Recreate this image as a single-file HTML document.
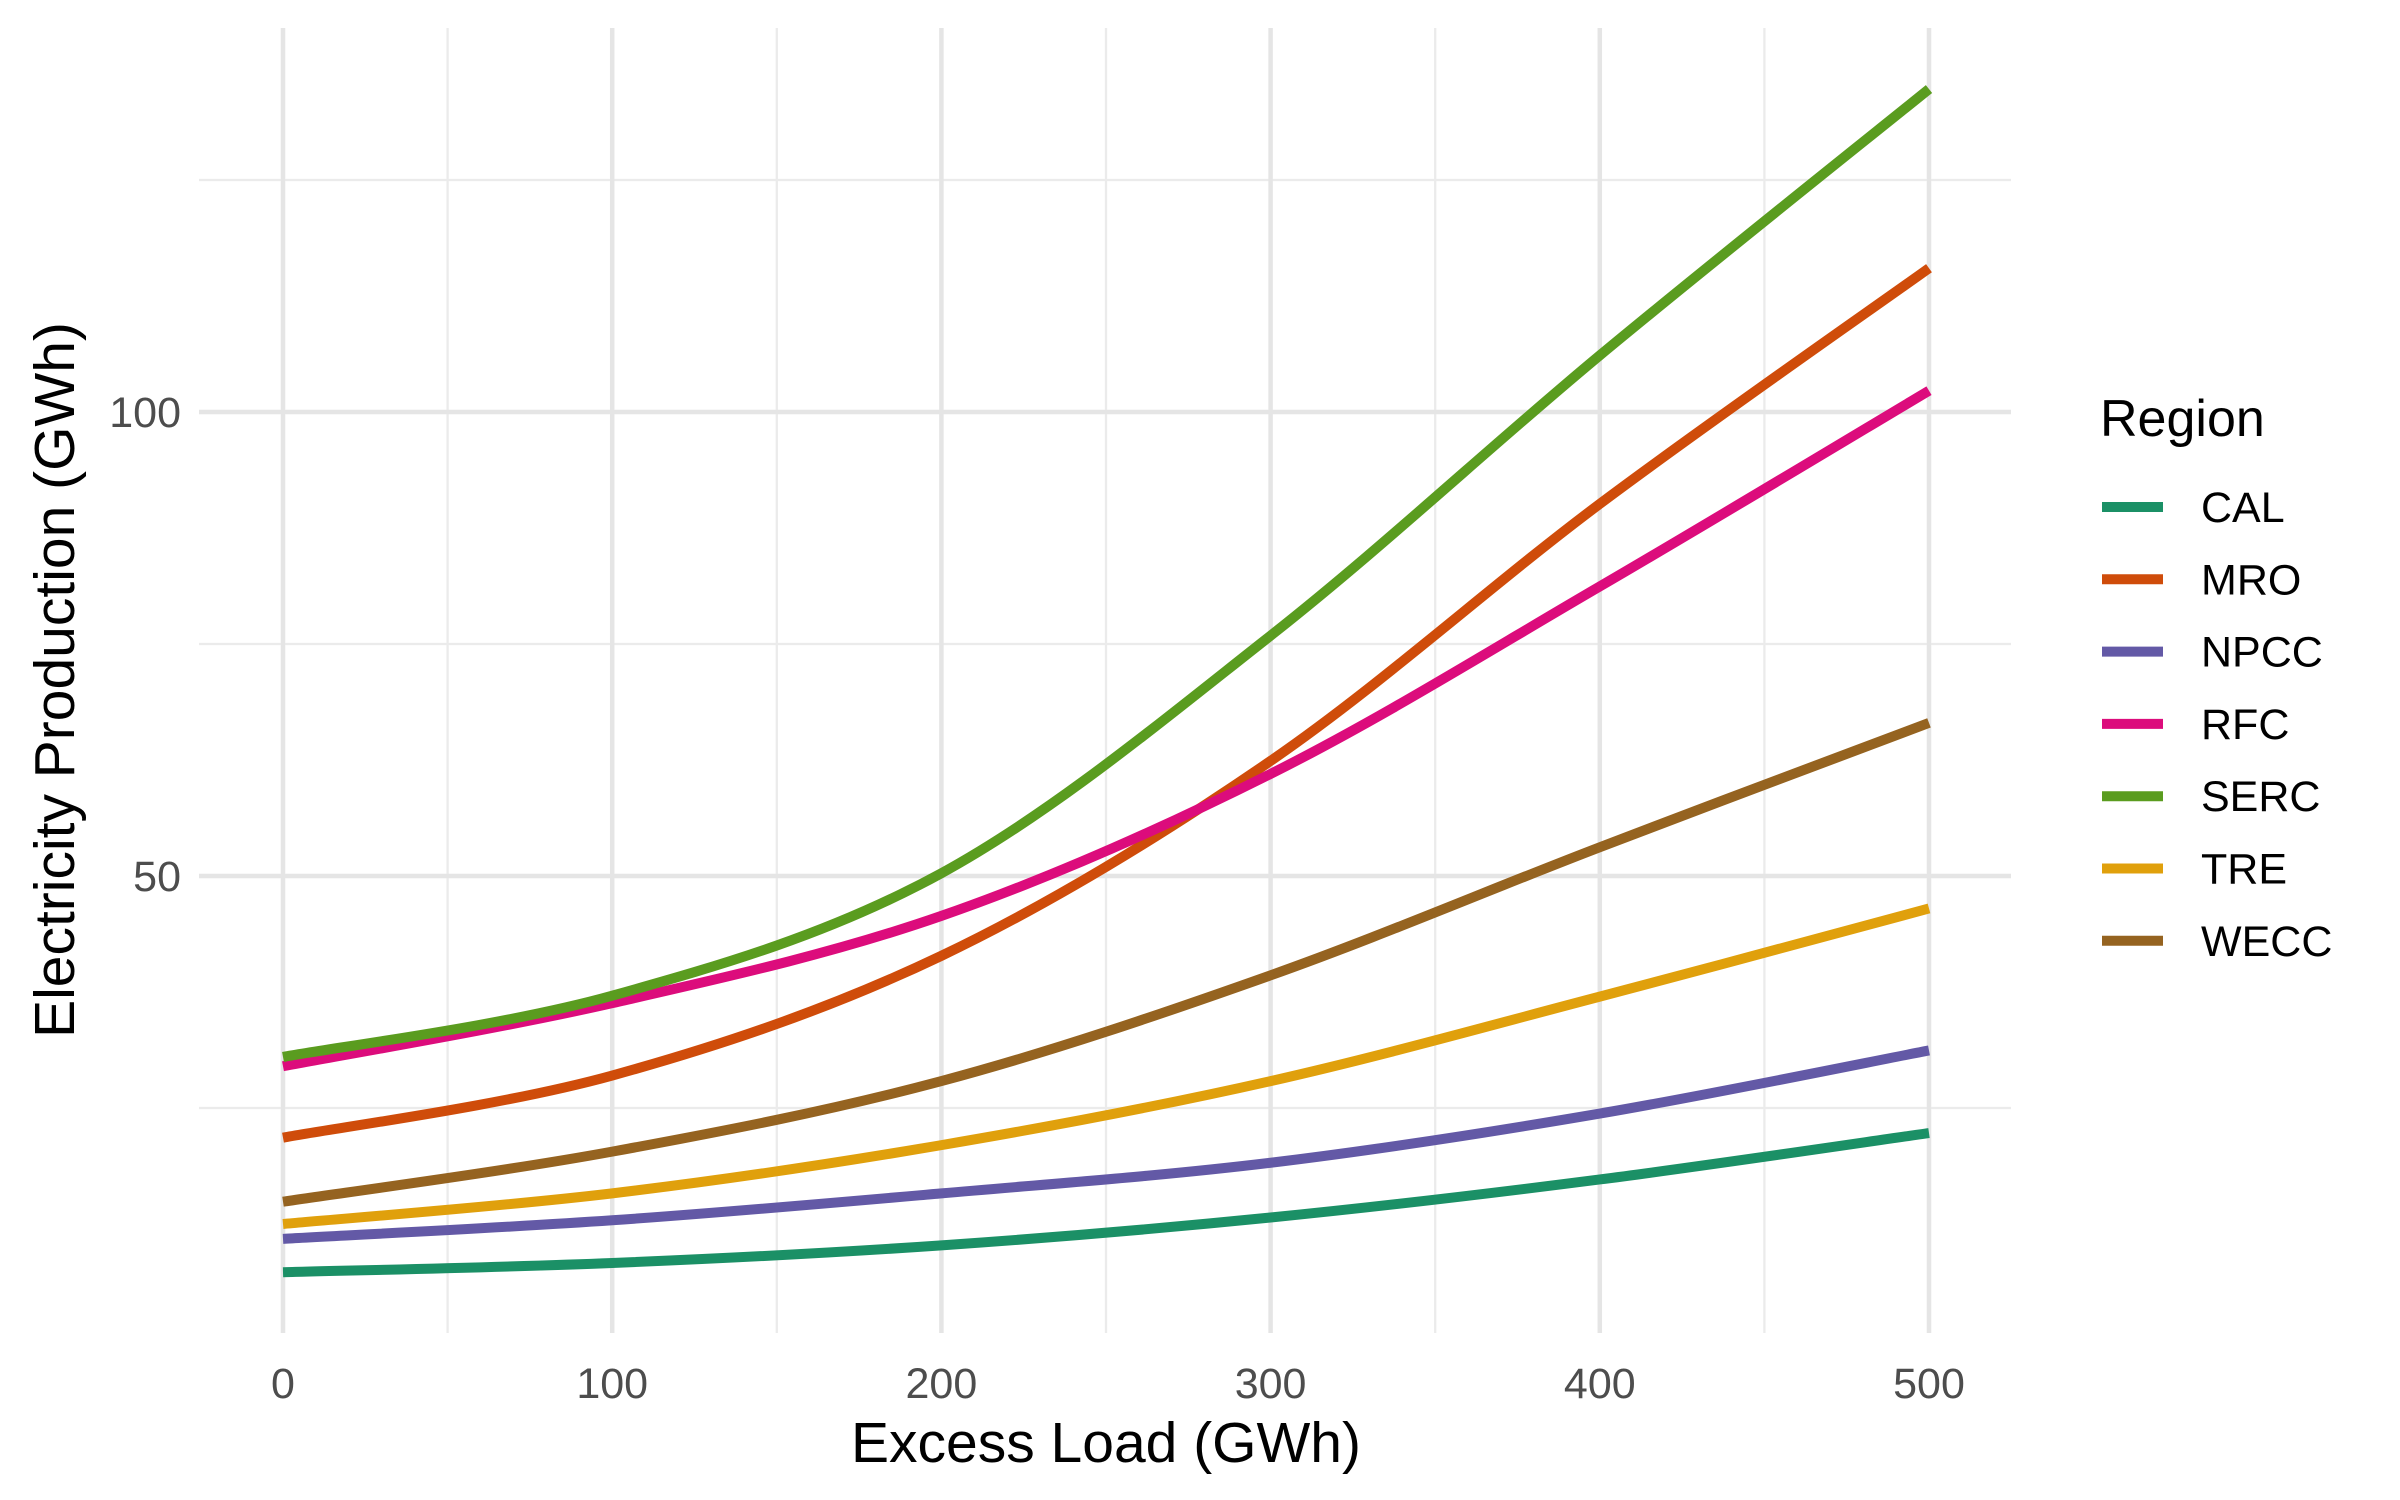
<!DOCTYPE html>
<html><head><meta charset="utf-8"><style>
html,body{margin:0;padding:0;background:#fff;}
svg{display:block;font-family:"Liberation Sans",Arial,sans-serif;}
</style></head><body>
<svg id="chart" width="2400" height="1500" viewBox="0 0 2400 1500">
<g id="grid"></g>
<g id="lines"></g>
<g id="axes"></g>
<g id="legend"></g>
</svg>
<script>
const xValues = [0, 100, 200, 300, 400, 500];
const seriesNames = ["CAL","MRO","NPCC","RFC","SERC","TRE","WECC"];
const seriesColors = ["#1b9066","#cf4c0a","#6359a6","#dc0c7c","#5a9c1f","#e0a00c","#956320"];
const calValues  = [7.3, 8.3, 10.2, 13.2, 17.3, 22.3];
const mroValues  = [21.8, 28.5, 41.4, 62.4, 90.1, 115.5];
const npccValues = [10.9, 12.9, 15.8, 19.1, 24.4, 31.2];
const rfcValues  = [29.5, 36.3, 45.7, 61.0, 81.2, 102.3];
const sercValues = [30.5, 37.1, 50.3, 75.9, 106.1, 134.8];
const treValues  = [12.5, 15.8, 21.0, 27.9, 37.0, 46.5];
const weccValues = [14.9, 20.3, 27.9, 39.3, 53.1, 66.5];
const xTicks = [0, 100, 200, 300, 400, 500];
const xMinor = [50, 150, 250, 350, 450];
const yTicks = [50, 100];
const yMinor = [25, 75, 125];

const NS = "http://www.w3.org/2000/svg";
const allSeries = [calValues, mroValues, npccValues, rfcValues, sercValues, treValues, weccValues];
const X0 = 283, X1 = 1929, Y0 = 1340, Y100 = 412;
const PL = 199, PR = 2011, PT = 28, PB = 1333;
function sx(v){ return X0 + (X1 - X0) * v / 500; }
function sy(v){ return Y0 - (Y0 - Y100) * v / 100; }
function mk(tag, attrs, parent){
  const el = document.createElementNS(NS, tag);
  for (const k in attrs) el.setAttribute(k, attrs[k]);
  parent.appendChild(el);
  return el;
}
const grid = document.getElementById("grid");
yMinor.forEach(v => {
  const l = mk("line", {x1:PL, x2:PR, y1:sy(v), y2:sy(v), stroke:"#ebebeb", "stroke-width":2.3}, grid);
  
  
});
xMinor.forEach(v => {
  const l = mk("line", {x1:sx(v), x2:sx(v), y1:PT, y2:PB, stroke:"#ebebeb", "stroke-width":2.3}, grid);
  
  
});
yTicks.forEach(v => {
  const l = mk("line", {x1:PL, x2:PR, y1:sy(v), y2:sy(v), stroke:"#e5e5e5", "stroke-width":4.5}, grid);
  
  
});
xTicks.forEach(v => {
  const l = mk("line", {x1:sx(v), x2:sx(v), y1:PT, y2:PB, stroke:"#e5e5e5", "stroke-width":4.5}, grid);
  
  
});
function pathFor(vals){
  const p = vals.map((v,i) => [sx(xValues[i]), sy(v)]);
  let d = "M" + p[0][0] + "," + p[0][1];
  for (let i = 0; i < p.length - 1; i++){
    const a = p[Math.max(0,i-1)], b = p[i], c = p[i+1], e = p[Math.min(p.length-1,i+2)];
    const c1 = [b[0] + (c[0]-a[0])/6, b[1] + (c[1]-a[1])/6];
    const c2 = [c[0] - (e[0]-b[0])/6, c[1] - (e[1]-b[1])/6];
    d += " C" + c1.join(",") + " " + c2.join(",") + " " + c.join(",");
  }
  return d;
}
const lines = document.getElementById("lines");
allSeries.forEach((vals, i) => {
  const p = mk("path", {d:pathFor(vals), fill:"none", stroke:seriesColors[i], "stroke-width":10}, lines);
  
  
});
const axes = document.getElementById("axes");
xTicks.forEach(v => {
  const t = mk("text", {x:sx(v), y:1398, "text-anchor":"middle", "font-size":43, fill:"#4d4d4d"}, axes);
  t.textContent = v;
  
  
});
yTicks.forEach(v => {
  const t = mk("text", {x:181, y:sy(v)+15, "text-anchor":"end", "font-size":43, fill:"#4d4d4d"}, axes);
  t.textContent = v;
  
  
});
const xt = mk("text", {x:1106, y:1462, "text-anchor":"middle", "font-size":57, fill:"#000"}, axes);
xt.textContent = "Excess Load (GWh)";


const yt = mk("text", {x:0, y:0, "text-anchor":"middle", "font-size":57, fill:"#000", transform:"translate(74,680) rotate(-90)"}, axes);
yt.textContent = "Electricity Production (GWh)";


const legend = document.getElementById("legend");
const lt = mk("text", {x:2100, y:436, "font-size":52, fill:"#000"}, legend);
lt.textContent = "Region";


seriesNames.forEach((n, i) => {
  const y = 507 + i * 72.3;
  const g = mk("g", {}, legend);
  
  
  mk("line", {x1:2102, x2:2163, y1:y, y2:y, stroke:seriesColors[i], "stroke-width":10}, g);
  const t = mk("text", {x:2201, y:y+15, "font-size":43, fill:"#000"}, g);
  t.textContent = n;
});
</script>
</body></html>
